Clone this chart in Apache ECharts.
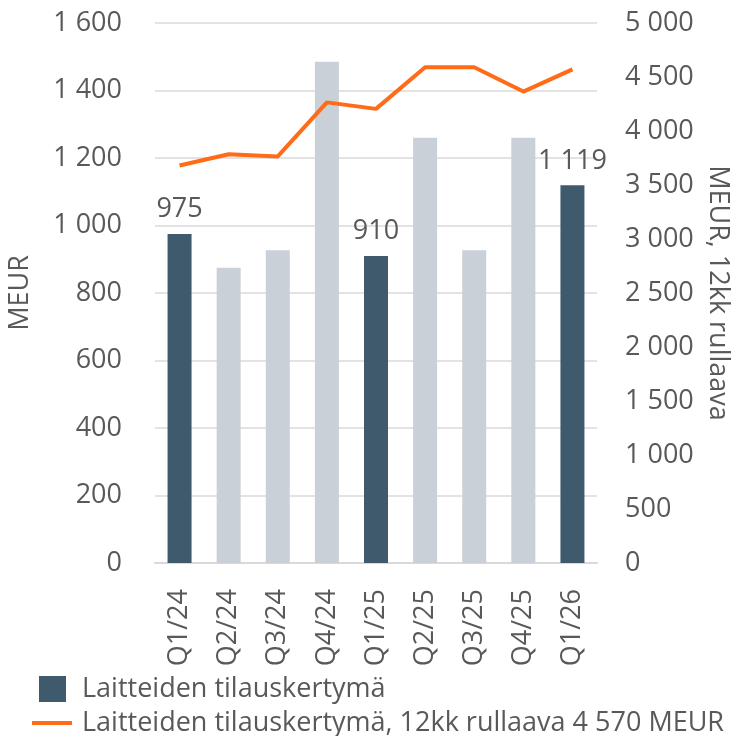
<!DOCTYPE html>
<html><head><meta charset="utf-8">
<script src="https://cdn.jsdelivr.net/npm/echarts@6/dist/echarts.min.js"></script>
<style>html,body{margin:0;padding:0;background:#fff}#c{width:738px;height:736px}</style>
</head><body><div id="c"></div>
<script>
const categories = ['Q1/24','Q2/24','Q3/24','Q4/24','Q1/25','Q2/25','Q3/25','Q4/25','Q1/26'];
const barValues = [975, 875, 927, 1485, 910, 1260, 927, 1260, 1119];
const highlighted = [true, false, false, false, true, false, false, false, true];
const rollingValues = [3680, 3785, 3765, 4265, 4205, 4590, 4590, 4365, 4570];
const barName = 'Laitteiden tilauskertymä';
const lineName = 'Laitteiden tilauskertymä, 12kk rullaava 4 570 MEUR';

const FONT = 'Open Sans';
const TXT = '#595959';
const FS = 27;
const fmt = v => String(v).replace(/\B(?=(\d{3})+(?!\d))/g, ' ');

const chart = echarts.init(document.getElementById('c'));
chart.setOption({
  animation: false,
  textStyle: {fontFamily: FONT, color: TXT},
  grid: {left: 155, right: 141, top: 23, bottom: 173, containLabel: false, outerBoundsMode: 'none'},
  legend: [
    {data: [barName], orient: 'vertical', left: 39, top: 673, itemWidth: 27, itemHeight: 26, itemGap: 0,
     icon: 'rect', textStyle: {fontFamily: FONT, fontSize: FS, lineHeight: 32, color: TXT, padding: [0,0,0,11]}, padding: 0},
    {data: [{name: lineName, icon: 'rect'}], orient: 'vertical', left: 32, top: 707, itemWidth: 40, itemHeight: 4, itemGap: 0,
     textStyle: {fontFamily: FONT, fontSize: FS, lineHeight: 32, color: TXT, padding: [0,0,0,5]}, padding: 0}
  ],
  xAxis: {
    type: 'category', data: categories,
    axisLine: {lineStyle: {color: '#D9D9D9', width: 2}},
    axisTick: {show: false},
    axisLabel: {rotate: 90, margin: 26, fontSize: FS, color: TXT, fontFamily: FONT}
  },
  yAxis: [
    {type: 'value', min: 0, max: 1600, interval: 200,
     name: 'MEUR', nameLocation: 'middle', nameGap: 121,
     nameTextStyle: {fontSize: FS, color: TXT, fontFamily: FONT},
     axisLabel: {formatter: fmt, fontSize: FS, color: TXT, margin: 33, fontFamily: FONT},
     splitLine: {lineStyle: {color: '#E3E3E3', width: 2}},
     axisLine: {show: false}, axisTick: {show: false}},
    {type: 'value', min: 0, max: 5000, interval: 500, position: 'right',
     name: 'MEUR, 12kk rullaava', nameLocation: 'middle', nameGap: 107, nameRotate: -90,
     nameTextStyle: {fontSize: FS, color: TXT, fontFamily: FONT},
     axisLabel: {formatter: fmt, fontSize: FS, color: TXT, margin: 28, fontFamily: FONT},
     splitLine: {show: false}, axisLine: {show: false}, axisTick: {show: false}}
  ],
  series: [
    {name: barName, type: 'bar', barWidth: 24, yAxisIndex: 0,
     itemStyle: {color: '#3E5A6C'},
     data: barValues.map((v, i) => ({
       value: v,
       itemStyle: {color: highlighted[i] ? '#3E5A6C' : '#C9D0D7'},
       label: {show: highlighted[i], position: 'top', distance: 11, formatter: p => fmt(p.value),
               fontSize: FS, color: TXT, fontFamily: FONT}
     }))},
    {name: lineName, type: 'line', yAxisIndex: 1, data: rollingValues,
     symbol: 'none', itemStyle: {color: '#FF6B17'}, lineStyle: {color: '#FF6B17', width: 4}}
  ]
});
</script></body></html>
